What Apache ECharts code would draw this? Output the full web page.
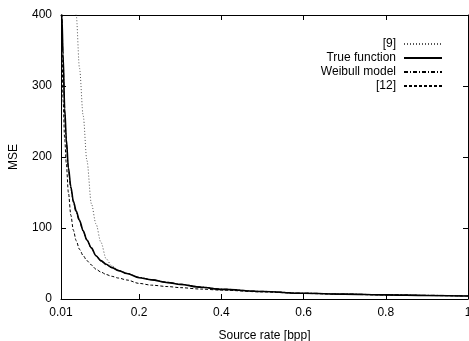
<!DOCTYPE html>
<html>
<head>
<meta charset="utf-8">
<script src="https://cdn.jsdelivr.net/npm/echarts@6/dist/echarts.min.js"></script>
<style>html,body{margin:0;padding:0;background:#fff}#c{width:469px;height:341px}</style>
</head>
<body>
<div id="c"></div>
<script>
const rates = [0.01, 0.012, 0.015, 0.019, 0.023, 0.028, 0.034, 0.04, 0.047, 0.055, 0.064, 0.073, 0.084, 0.095, 0.107, 0.12, 0.133, 0.15, 0.17, 0.2, 0.23, 0.27, 0.3, 0.35, 0.4, 0.5, 0.6, 0.7, 0.8, 0.9, 1.0];
const ref9 = [null, null, null, null, null, null, 650, 510, 400, 325, 258, 195, 134, 106, 80, 56.5, 47, 40.5, 36.2, 30.3, 27.2, 23.3, 20.8, 16.8, 13.8, 10.7, 8.2, 6.9, 5.9, 5.1, 4.4];
const trueFn = [460, 400, 345, 268, 225, 185, 158, 138, 124, 111, 96, 83, 72, 61, 54, 49, 44.5, 40, 36, 30, 27, 23, 20.5, 16.5, 13.5, 10.5, 8, 6.8, 5.8, 5, 4.3];
const weibull = [470, 405, 340, 262, 220, 182, 155, 136, 121, 109, 95, 83, 71, 61, 53.5, 48, 44, 40, 36, 30.5, 27.2, 23.5, 21, 17, 14, 10.8, 8.3, 7, 6, 5.2, 4.5];
const ref12 = [450, 370, 280, 225, 190, 150, 118, 97, 82, 70, 61, 54, 48, 42, 38, 34.5, 32, 29.5, 26.8, 22, 19.5, 17.5, 16, 14, 12.5, 10, 7.8, 6.6, 5.6, 4.9, 4.2];
const xTicks = [0.01, 0.2, 0.4, 0.6, 0.8, 1];
const yTicks = [0, 100, 200, 300, 400];
const names = ['[9]', 'True function', 'Weibull model', '[12]'];

const pair = arr => rates.map((r, i) => [r, arr[i]]);
const font = 'Liberation Sans, Arial, sans-serif';
const chart = echarts.init(document.getElementById('c'), null, {renderer: 'canvas'});
const axisCommon = {
  axisLine: {show: true, onZero: false, lineStyle: {color: '#000', width: 1}},
  splitLine: {show: false},
};
chart.setOption({
  animation: false,
  backgroundColor: '#fff',
  grid: {left: 61, right: 1, top: 15, bottom: 42, containLabel: false, outerBoundsMode: 'none'},
  legend: {
    data: names,
    orient: 'vertical',
    right: 21,
    top: 33,
    align: 'right',
    itemWidth: 38,
    itemHeight: 10,
    itemGap: 2,
    itemStyle: {opacity: 0},
    textStyle: {fontSize: 12, fontFamily: font, color: '#000', padding: [0, 3, 0, 0]},
    inactiveColor: '#000'
  },
  xAxis: [{
    ...axisCommon,
    type: 'value', min: 0.01, max: 1, position: 'bottom',
    name: 'Source rate [bpp]', nameLocation: 'middle', nameGap: 31,
    nameTextStyle: {fontSize: 12, fontFamily: font, color: '#000'},
    axisTick: {show: true, inside: true, length: 5, customValues: xTicks, lineStyle: {color: '#000'}},
    axisLabel: {customValues: xTicks, fontSize: 12, fontFamily: font, color: '#000', margin: 8,
      formatter: v => String(Math.round(v * 100) / 100)}
  }, {
    ...axisCommon,
    type: 'value', min: 0.01, max: 1, position: 'top',
    axisTick: {show: true, inside: true, length: 5, customValues: xTicks, lineStyle: {color: '#000'}},
    axisLabel: {show: false}
  }],
  yAxis: [{
    ...axisCommon,
    type: 'value', min: 0, max: 400, interval: 100, position: 'left',
    name: 'MSE', nameLocation: 'middle', nameGap: 41,
    nameTextStyle: {fontSize: 12, fontFamily: font, color: '#000'},
    axisTick: {show: true, inside: true, length: 5, customValues: yTicks, lineStyle: {color: '#000'}},
    axisLabel: {customValues: yTicks, fontSize: 12, fontFamily: font, color: '#000', margin: 9}
  }, {
    ...axisCommon,
    type: 'value', min: 0, max: 400, interval: 100, position: 'right',
    axisTick: {show: true, inside: true, length: 5, lineStyle: {color: '#000'}},
    axisLabel: {show: false}
  }],
  series: [
    {name: names[0], type: 'line', data: pair(ref9), symbol: 'none', smooth: 0.3, smoothMonotone: 'x', clip: true,
     color: '#555', lineStyle: {color: '#555', width: 1, type: [1, 2]}},
    {name: names[1], type: 'line', data: pair(trueFn), symbol: 'none', smooth: 0.3, smoothMonotone: 'x', clip: true,
     color: '#000', lineStyle: {color: '#000', width: 1.6, type: 'solid'}},
    {name: names[2], type: 'line', data: pair(weibull), symbol: 'none', smooth: 0.3, smoothMonotone: 'x', clip: true,
     color: '#000', lineStyle: {color: '#000', width: 1, type: [4, 2, 1, 2]}},
    {name: names[3], type: 'line', data: pair(ref12), symbol: 'none', smooth: 0.3, smoothMonotone: 'x', clip: true,
     color: '#000', lineStyle: {color: '#000', width: 1, type: [3, 2]}}
  ]
});
</script>
</body>
</html>
